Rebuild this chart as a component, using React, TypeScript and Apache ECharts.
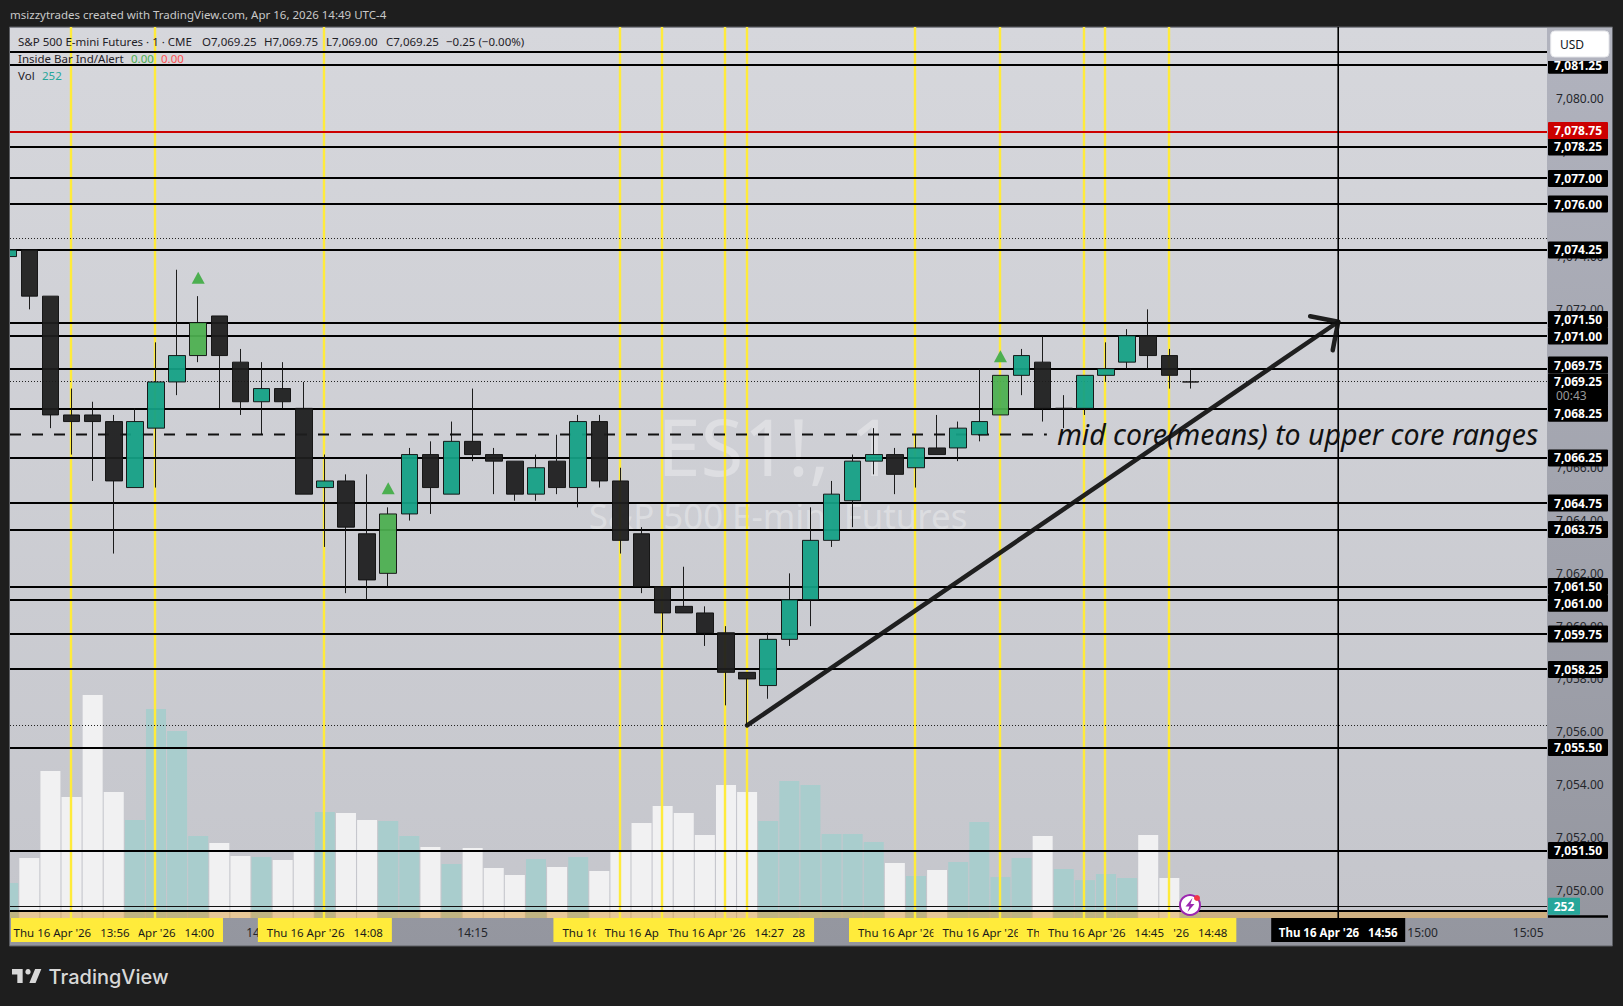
import React, { useEffect, useRef } from "react";
import * as echarts from "echarts";

// ---------- data ----------
const opens = [7074.0,7074.25,7072.5,7068,7068,7067.75,7065.25,7067.5,7069.25,7070.25,7071.75,7070,7068.5,7069,7068.25,7065.25,7065.5,7063.5,7062,7064.25,7066.5,7065,7067,7066.5,7066.25,7065,7066.25,7065.25,7067.75,7065.5,7063.5,7061.5,7060.75,7060.5,7059.75,7058.25,7057.75,7059.5,7061,7063.25,7064.75,7066.25,7066.5,7066,7066.75,7066.75,7067.25,7068,7069.5,7070,7068.25,7068.25,7069.5,7070,7071,7070.25,7069.25];
const closes = [7074.25,7072.5,7068,7067.75,7067.75,7065.5,7067.75,7069.25,7070.25,7071.5,7070.25,7068.5,7069,7068.5,7065,7065.5,7063.75,7061.75,7064.25,7066.5,7065.25,7067,7066.5,7066.25,7065,7066,7065.25,7067.75,7065.5,7063.25,7061.5,7060.5,7060.5,7059.75,7058.25,7058,7059.5,7061,7063.25,7065,7066.25,7066.5,7065.75,7066.75,7066.5,7067.5,7067.75,7069.5,7070.25,7068.25,7068.25,7069.5,7069.75,7071,7070.25,7069.5,7069.25];
const highs = [7074.25,7074.25,7072.5,7069,7068.5,7068,7068.25,7070.75,7073.5,7072.5,7071.75,7070.5,7070,7070,7069.25,7066.5,7065.75,7065.75,7064.5,7066.75,7067,7067.75,7069,7066.75,7066.25,7066.5,7067.25,7068,7068,7066,7063.75,7061.5,7062.25,7060.75,7060,7058.25,7059.75,7062,7064.5,7065.5,7066.5,7067.5,7066.75,7067.25,7068,7067.75,7069.75,7069.5,7070.5,7071,7068.75,7069.5,7070.75,7071.25,7072,7070.5,7069.75];
const lows = [7074,7072,7067.5,7066.5,7065.5,7062.75,7065.25,7065.25,7068.75,7070,7068.25,7068,7067.25,7068.25,7065,7063,7061.25,7061,7061.5,7064,7064.25,7065,7066.25,7065,7064.75,7064.75,7065,7064.5,7065.25,7062.75,7061.25,7059.75,7060.5,7059.25,7057,7056.25,7057.25,7059.25,7060,7063,7063.75,7065.75,7065,7065.25,7066.5,7066.25,7067,7068,7068.75,7067.75,7067.5,7068,7069.25,7069.75,7069.75,7069,7069];
const volumes = [752,1290,3160,2600,4795,2710,2105,4495,4020,1765,1610,1335,1310,1245,1440,2280,2260,2105,2085,1765,1525,1160,1505,1075,925,1270,1095,1310,1010,1440,2040,2410,2260,1785,2860,2710,2085,2945,2860,1805,1805,1635,1180,905,1030,1205,2065,880,1290,1765,1055,815,945,860,1785,860,252];
const insideBars = [9, 18, 47];
const insideMarkers = [[9, 7073.2], [18, 7065.22], [47, 7070.22]];
const blackLevels = [7081.25,7078.15,7076.96,7075.99,7074.25,7071.48,7070.99,7069.74,7068.22,7066.37,7064.66,7063.66,7061.5,7060.98,7059.7,7058.36,7055.4,7051.5];
const untaggedLevels = [7081.74, 7049.2];
const redLevel = 7078.72;
const currentPrice = 7069.25;
const dottedLevels = [7074.7, 7056.24];
const midCoreLevel = 7067.26;
const midCoreEnd = 49.2;
const yellowBars = [3, 7, 15, 29, 31, 34, 35, 43, 47, 51, 52, 55];
const crosshairBar = 63;
const arrowShaft = [[35, 7056.24], [63, 7071.53]];
const arrowHead = [[61.67, 7071.74], [63, 7071.53], [62.74, 7070.45]];
const priceTicks = [7050,7052,7054,7056,7058,7060,7062,7064,7066,7072,7074,7076,7078,7080];
const timeTicks = [12, 22, 67, 72];
const timeTickLabels = ["14:05", "14:15", "15:00", "15:05"];
const timeTagOrder = [7, 3, 15, 29, 31, 35, 34, 43, 47, 51, 55, 52, 63];
const lastVolume = 252;
const annotation = "mid core(means) to upper core ranges";

// ---------- layout ----------
const FONT = '"Noto Sans"';
const PLOT = { l: 10, r: 1547, t: 27, b: 918 };
const X_MIN = 0.085, X_MAX = 72.89;
const Y_MIN = 7048.945, Y_MAX = 7082.695;
const VOL_MAX = 19156;
const LEVEL_WIDTH = 2.2;
const tagShift: Record<number, number> = { 7078.72: -1.4, 7071.48: -3.7, 7069.74: -4, 7068.22: 4, 7060.98: 3 };

const fmt = (v: number) => (Math.round(v * 4) / 4).toLocaleString("en-US", { minimumFractionDigits: 2, maximumFractionDigits: 2 });
const barTime = (i: number) => {
  const m = 13 * 60 + 53 + i;
  return `${Math.floor(m / 60)}:${String(m % 60).padStart(2, "0")}`;
};

function hLine(yRaw: number, cs: any, stroke: string, lineWidth: number, lineDash?: number[]) {
  const y = lineWidth === 1 ? Math.floor(yRaw) + 0.5 : Math.round(yRaw);
  return { type: "line", silent: true, shape: { x1: cs.x, y1: y, x2: cs.x + cs.width, y2: y }, style: { stroke, lineWidth, lineDash } };
}
function priceTag(y: number, text: string, fill: string) {
  return [
    { type: "rect", silent: true, shape: { x: 1548, y: y - 8.5, width: 60, height: 17, r: 1 }, style: { fill } },
    { type: "text", silent: true, style: { text, x: 1602, y, fill: "#ffffff", font: `bold 12px ${FONT}`, align: "right", verticalAlign: "middle" } },
  ];
}

function buildOption() {
  const candleData = opens.map((o, i) => {
    const value = [i, o, closes[i], lows[i], highs[i]];
    return insideBars.includes(i)
      ? { value, itemStyle: { color: "#4caf50", color0: "#4caf50", borderColor: "#111", borderColor0: "#111" } }
      : { value };
  });
  const volumeData = volumes.map((v, i) => ({
    value: [i, v],
    itemStyle: { color: closes[i] >= opens[i] ? "#a9cdcd" : "#f1f1f2" },
  }));

  const txt = (text: string, x: number, y: number, fill: string, size = 11.5, extra: any = {}) => ({
    type: "text", silent: true, z: 8, x, y,
    style: { text, fill, font: `${size}px ${FONT}`, verticalAlign: "middle", ...extra },
  });
  const gradient = (a: string, b: string) => ({ type: "linear", x: 0, y: 0, x2: 0, y2: 1, colorStops: [{ offset: 0, color: a }, { offset: 1, color: b }] });

  return {
    animation: false,
    backgroundColor: "#1e1e1e",
    grid: { left: PLOT.l, top: PLOT.t, width: PLOT.r - PLOT.l, height: PLOT.b - PLOT.t, containLabel: false },
    xAxis: {
      type: "value", min: X_MIN, max: X_MAX, splitLine: { show: false }, axisLine: { show: false }, axisTick: { show: false },
      axisLabel: {
        customValues: timeTicks, margin: 8, color: "#24262b", fontSize: 12, fontFamily: FONT,
        formatter: (v: number) => timeTickLabels[timeTicks.indexOf(v)] ?? "",
      },
    },
    yAxis: [
      {
        type: "value", position: "right", min: Y_MIN, max: Y_MAX, splitLine: { show: false }, axisLine: { show: false }, axisTick: { show: false },
        axisLabel: {
          customValues: priceTicks, margin: 9, align: "left", color: "#24262b", fontSize: 12, fontFamily: FONT,
          formatter: (v: number) => v.toLocaleString("en-US", { minimumFractionDigits: 2 }),
        },
      },
      { type: "value", show: false, min: 0, max: VOL_MAX, splitLine: { show: false } },
    ],
    graphic: [
      { type: "rect", silent: true, z: -1, shape: { x: 9.5, y: 27, width: 1603, height: 919 }, style: { fill: gradient("#b1b3be", "#94969f"), stroke: "#5c5e63", lineWidth: 1 } },
      { type: "rect", silent: true, z: -1, shape: { x: PLOT.l, y: PLOT.t + 1, width: PLOT.r - PLOT.l, height: PLOT.b - PLOT.t - 1 }, style: { fill: gradient("#d6d7dc", "#c5c6cc") } },
      { type: "text", silent: true, z: 0, x: 776, y: 446, style: { text: "ES1!, 1", fill: "rgba(255,255,255,0.32)", font: `78px ${FONT}`, align: "center", verticalAlign: "middle" } },
      { type: "text", silent: true, z: 0, x: 778, y: 515, style: { text: "S&P 500 E-mini Futures", fill: "rgba(255,255,255,0.32)", font: `34.8px ${FONT}`, align: "center", verticalAlign: "middle" } },
      { type: "rect", silent: true, z: 2, shape: { x: PLOT.l, y: 912, width: PLOT.r - PLOT.l, height: 6 }, style: { fill: "rgba(220,150,40,0.45)" } },
      // frame over anything that overruns the left edge
      { type: "rect", silent: true, z: 8, shape: { x: 0, y: 27, width: 9, height: 919 }, style: { fill: "#1e1e1e" } },
      { type: "rect", silent: true, z: 8, shape: { x: 9, y: 27, width: 1, height: 919 }, style: { fill: "#5c5e63" } },
      // header and legend
      txt("msizzytrades created with TradingView.com, Apr 16, 2026 14:49 UTC-4", 10, 14.7, "#c9c9c9"),
      txt("S&P 500 E-mini Futures · 1 · CME", 18, 41.7, "#1f2127"),
      txt("O7,069.25", 202, 41.7, "#1f2127"),
      txt("H7,069.75", 264, 41.7, "#1f2127"),
      txt("L7,069.00", 326, 41.7, "#1f2127"),
      txt("C7,069.25", 386, 41.7, "#1f2127"),
      txt("−0.25 (−0.00%)", 446, 41.7, "#1f2127"),
      txt("Inside Bar Ind/Alert", 18, 58.7, "#1f2127"),
      txt("0.00", 131, 58.7, "#4caf50"),
      txt("0.00", 161, 58.7, "#ff5252"),
      txt("Vol", 18, 75.7, "#1f2127"),
      txt("252", 42, 75.7, "#26a69a"),
      // currency button
      { type: "rect", silent: true, z: 8, shape: { x: 1547.5, y: 28, width: 64, height: 33 }, style: { fill: "#b1b3be" } },
      { type: "rect", silent: true, z: 8, shape: { x: 1550.7, y: 31, width: 58.3, height: 26, r: 4 }, style: { fill: "#ffffff", stroke: "#e3e4e8", lineWidth: 1 } },
      txt("USD", 1560, 44.3, "#131722", 12),
      { type: "rect", silent: true, z: 8, shape: { x: 1548, y: 915.2, width: 60, height: 2.6 }, style: { fill: "#000000" } },
      // alert icon
      { type: "circle", silent: true, z: 8, shape: { cx: 1190, cy: 905, r: 10 }, style: { fill: "#ffffff", stroke: "#9c27b0", lineWidth: 2 } },
      { type: "polygon", silent: true, z: 8, shape: { points: [[1192.5, 898], [1185.5, 906.5], [1189.5, 906.5], [1187.5, 912], [1194.5, 904], [1190.5, 904]] }, style: { fill: "#9c27b0" } },
      { type: "circle", silent: true, z: 8, shape: { cx: 1197, cy: 898, r: 3 }, style: { fill: "#f23645" } },
      // logo
      { type: "tvlogo", silent: true, z: 8, x: 10.2, y: 963.4, scaleX: 0.89, scaleY: 0.93, style: { fill: "#d8d8d8" } },
      { type: "text", silent: true, z: 8, x: 48.6, y: 977, style: { text: "TradingView", fill: "#d8d8d8", font: `500 20px Inter`, verticalAlign: "middle" } },
    ],
    series: [
      { type: "bar", name: "Vol", z: 1, xAxisIndex: 0, yAxisIndex: 1, barWidth: 20, data: volumeData, silent: true },
      {
        type: "custom", name: "Session lines", z: 3, silent: true, data: yellowBars.map((i) => [i]), encode: { x: 0 },
        renderItem: (p: any, api: any) => {
          const x = Math.floor(api.coord([api.value(0), Y_MIN])[0]);
          return { type: "line", shape: { x1: x, y1: p.coordSys.y, x2: x, y2: p.coordSys.y + p.coordSys.height }, style: { stroke: "#ffeb3b", lineWidth: 2.4 } };
        },
      },
      {
        type: "custom", name: "Levels", z: 4, silent: true, data: blackLevels.map((v) => [v]), encode: { y: 0 },
        renderItem: (p: any, api: any) => {
          const v = api.value(0);
          const y = api.coord([X_MIN, v])[1];
          return { type: "group", children: [hLine(y, p.coordSys, "#000", LEVEL_WIDTH), ...priceTag(y + (tagShift[v] ?? 0), fmt(v), "#000")] };
        },
      },
      {
        type: "custom", name: "Untagged levels", z: 4, silent: true, data: untaggedLevels.map((v) => [v]), encode: { y: 0 },
        renderItem: (p: any, api: any) => hLine(api.coord([X_MIN, api.value(0)])[1], p.coordSys, "#000", LEVEL_WIDTH),
      },
      {
        type: "custom", name: "Dotted", z: 4, silent: true, data: dottedLevels.map((v) => [v]), encode: { y: 0 },
        renderItem: (p: any, api: any) => hLine(api.coord([X_MIN, api.value(0)])[1], p.coordSys, "#222", 1, [1, 2]),
      },
      {
        type: "custom", name: "Red level", z: 4, silent: true, data: [[redLevel]], encode: { y: 0 },
        renderItem: (p: any, api: any) => {
          const v = api.value(0);
          const y = api.coord([X_MIN, v])[1];
          return { type: "group", children: [hLine(y, p.coordSys, "#cc0000", LEVEL_WIDTH), ...priceTag(y + (tagShift[v] ?? 0), fmt(v), "#cc0000")] };
        },
      },
      {
        type: "custom", name: "Last price", z: 4, silent: true, data: [[currentPrice]], encode: { y: 0 },
        renderItem: (p: any, api: any) => {
          const v = api.value(0);
          const y = api.coord([X_MIN, v])[1];
          return {
            type: "group",
            children: [
              hLine(y, p.coordSys, "#222", 1, [1, 2]),
              { type: "rect", shape: { x: 1548, y: y - 8.5, width: 60, height: 32 }, style: { fill: "#000" } },
              { type: "text", style: { text: fmt(v), x: 1602, y, fill: "#fff", font: `bold 12px ${FONT}`, align: "right", verticalAlign: "middle" } },
              { type: "text", style: { text: "00:43", x: 1556, y: y + 14, fill: "#9a9a9a", font: `12px ${FONT}`, verticalAlign: "middle" } },
            ],
          };
        },
      },
      {
        type: "custom", name: "Last volume", z: 4, silent: true, yAxisIndex: 1, data: [[lastVolume]], encode: { y: 0 },
        renderItem: (p: any, api: any) => {
          const v = api.value(0);
          const y = api.coord([X_MIN, v])[1];
          return {
            type: "group",
            children: [
              hLine(y, p.coordSys, "#111", 1),
              { type: "rect", shape: { x: 1548, y: y - 8.5, width: 32, height: 17, r: 1 }, style: { fill: "#26a69a" } },
              { type: "text", style: { text: String(v), x: 1564, y, fill: "#fff", font: `bold 12px ${FONT}`, align: "center", verticalAlign: "middle" } },
            ],
          };
        },
      },
      {
        type: "line", name: "Mid core", z: 4, silent: true, symbol: "none",
        data: [[X_MIN, midCoreLevel], [midCoreEnd, midCoreLevel]],
        lineStyle: { color: "#111", width: 2, type: [11, 11] },
      },
      {
        type: "candlestick", name: "ES1!", z: 5, silent: true, barWidth: 17, data: candleData,
        itemStyle: {
          color: "#14a085", color0: "#1e1e1e", borderColor: "#111", borderColor0: "#111", borderColorDoji: "#111", borderWidth: 1, opacity: 0.94,
        },
      },
      {
        type: "scatter", name: "Inside bar", z: 5, silent: true, symbol: "triangle", symbolSize: [13, 12], data: insideMarkers,
        itemStyle: { color: "#4caf50", opacity: 1 },
      },
      {
        type: "custom", name: "Crosshair", z: 6, silent: true, data: [[crosshairBar]], encode: { x: 0 },
        renderItem: (p: any, api: any) => {
          const x = api.coord([api.value(0), Y_MIN])[0];
          return { type: "line", shape: { x1: x, y1: p.coordSys.y, x2: x, y2: p.coordSys.y + p.coordSys.height }, style: { stroke: "#000", lineWidth: 1.6 } };
        },
      },
      {
        type: "line", name: "Arrow", z: 6, silent: true, symbol: "none", data: arrowShaft,
        lineStyle: { color: "#111", width: 4.5, opacity: 0.93, cap: "round" },
      },
      {
        type: "line", name: "Arrow head", z: 6, silent: true, symbol: "none", data: arrowHead,
        lineStyle: { color: "#111", width: 4.5, opacity: 0.93, cap: "round", join: "round" },
      },
      {
        type: "custom", name: "Annotation", z: 6, silent: true, data: [[midCoreEnd, midCoreLevel]], encode: { x: 0, y: 1 },
        renderItem: (_p: any, api: any) => {
          const c = api.coord([api.value(0), api.value(1)]);
          return { type: "text", style: { text: annotation, x: c[0] + 10, y: c[1], fill: "#111", font: `italic 28.5px ${FONT}`, verticalAlign: "middle" } };
        },
      },
      {
        type: "custom", name: "Time tags", z: 7, silent: true, data: timeTagOrder.map((i) => [i]), encode: { x: 0 },
        renderItem: (_p: any, api: any) => {
          const i = api.value(0);
          const cx = api.coord([i, Y_MIN])[0];
          const cross = i === crosshairBar;
          const left = Math.max(cx - 67, 11);
          return {
            type: "group",
            children: [
              { type: "rect", shape: { x: left, y: 918, width: cx + 67 - left, height: 24 }, style: { fill: cross ? "#000" : "#ffeb3b" } },
              { type: "text", style: { text: `Thu 16 Apr '26   ${barTime(i)}`, x: cx, y: 932, fill: cross ? "#fff" : "#1a1a1a", font: `${cross ? "bold " : ""}11.5px ${FONT}`, align: "center", verticalAlign: "middle" } },
            ],
          };
        },
      },
    ],
  };
}

echarts.graphic.registerShape(
  "tvlogo",
  echarts.graphic.extendPath("M14 6H2v6h6v9h6V6zM35 6H28L21.5 21H28.5zM20 6a3 3 0 1 0 0.01 0z", {})
);

export default function App() {
  const ref = useRef<HTMLDivElement>(null);
  useEffect(() => {
    const chart = echarts.init(ref.current!, undefined, { renderer: "svg" });
    chart.setOption(buildOption() as any);
    return () => chart.dispose();
  }, []);
  return <div ref={ref} style={{ position: "fixed", left: 0, top: 0, width: 1623, height: 1006 }} />;
}
